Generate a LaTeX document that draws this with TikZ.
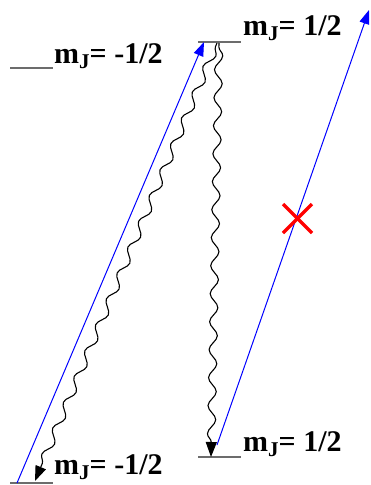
\documentclass[tikz,border=0pt]{standalone}
\usepackage{fontspec}
\setmainfont{Liberation Serif}
\usetikzlibrary{arrows.meta,decorations.pathmorphing}
\newcommand{\mjlab}[1]{\fontsize{30}{30}\selectfont\bfseries m\raisebox{-5pt}{\fontsize{21}{21}\selectfont J}= #1}
\begin{document}
\begin{tikzpicture}[x=1pt,y=-1pt,
  level/.style={draw=gray!85!black,line width=2pt},
  lab/.style={anchor=base west,inner sep=0pt},
  absorb/.style={draw=blue,line width=1pt,-{Triangle[length=14pt,width=10pt]}},
  emit/.style={draw=black,line width=1.1pt,-{Triangle[length=15pt,width=11pt]},
    decorate,decoration={snake,segment length=28pt,amplitude=4pt,pre length=4pt,post length=14pt}},
  cross/.style={draw=red,line width=3.5pt}]
\useasboundingbox (0,0) rectangle (371,485);
% levels
\coordinate (ulA) at (10,67.5); \coordinate (ulB) at (53,67.5);
\coordinate (umA) at (198,41.5); \coordinate (umB) at (241,41.5);
\coordinate (llA) at (10,483); \coordinate (llB) at (53,483);
\coordinate (lmA) at (198,457); \coordinate (lmB) at (241,457);
\draw[level] (ulA) -- (ulB);
\draw[level] (umA) -- (umB);
\draw[level] (llA) -- (llB);
\draw[level] (lmA) -- (lmB);
\node[lab] (tul) at (54,63) {\mjlab{-1/2}};
\node[lab] (tum) at (243,35) {\mjlab{1/2}};
\node[lab] (tll) at (54,474) {\mjlab{-1/2}};
\node[lab] (tlm) at (243,451) {\mjlab{1/2}};
% absorption arrows
\coordinate (a1s) at (17,483); \coordinate (a1e) at (204,42);
\draw[absorb] (a1s) -- (a1e);
\coordinate (a2s) at (217,445); \coordinate (a2e) at (369,10);
\draw[absorb] (a2s) -- (a2e);
% emission (wavy)
\coordinate (e0) at (217,43); \coordinate (e1) at (35,481);
\coordinate (e0b) at (219,43); \coordinate (e2) at (211,457);
\draw[emit] (e0) -- (e1);
\draw[emit] (e0b) -- (e2);
% forbidden cross
\coordinate (x1) at (283,204); \coordinate (x2) at (312,233);
\coordinate (x3) at (283,233); \coordinate (x4) at (312,204);
\draw[cross] (x1) -- (x2);
\draw[cross] (x3) -- (x4);
\end{tikzpicture}
\end{document}
